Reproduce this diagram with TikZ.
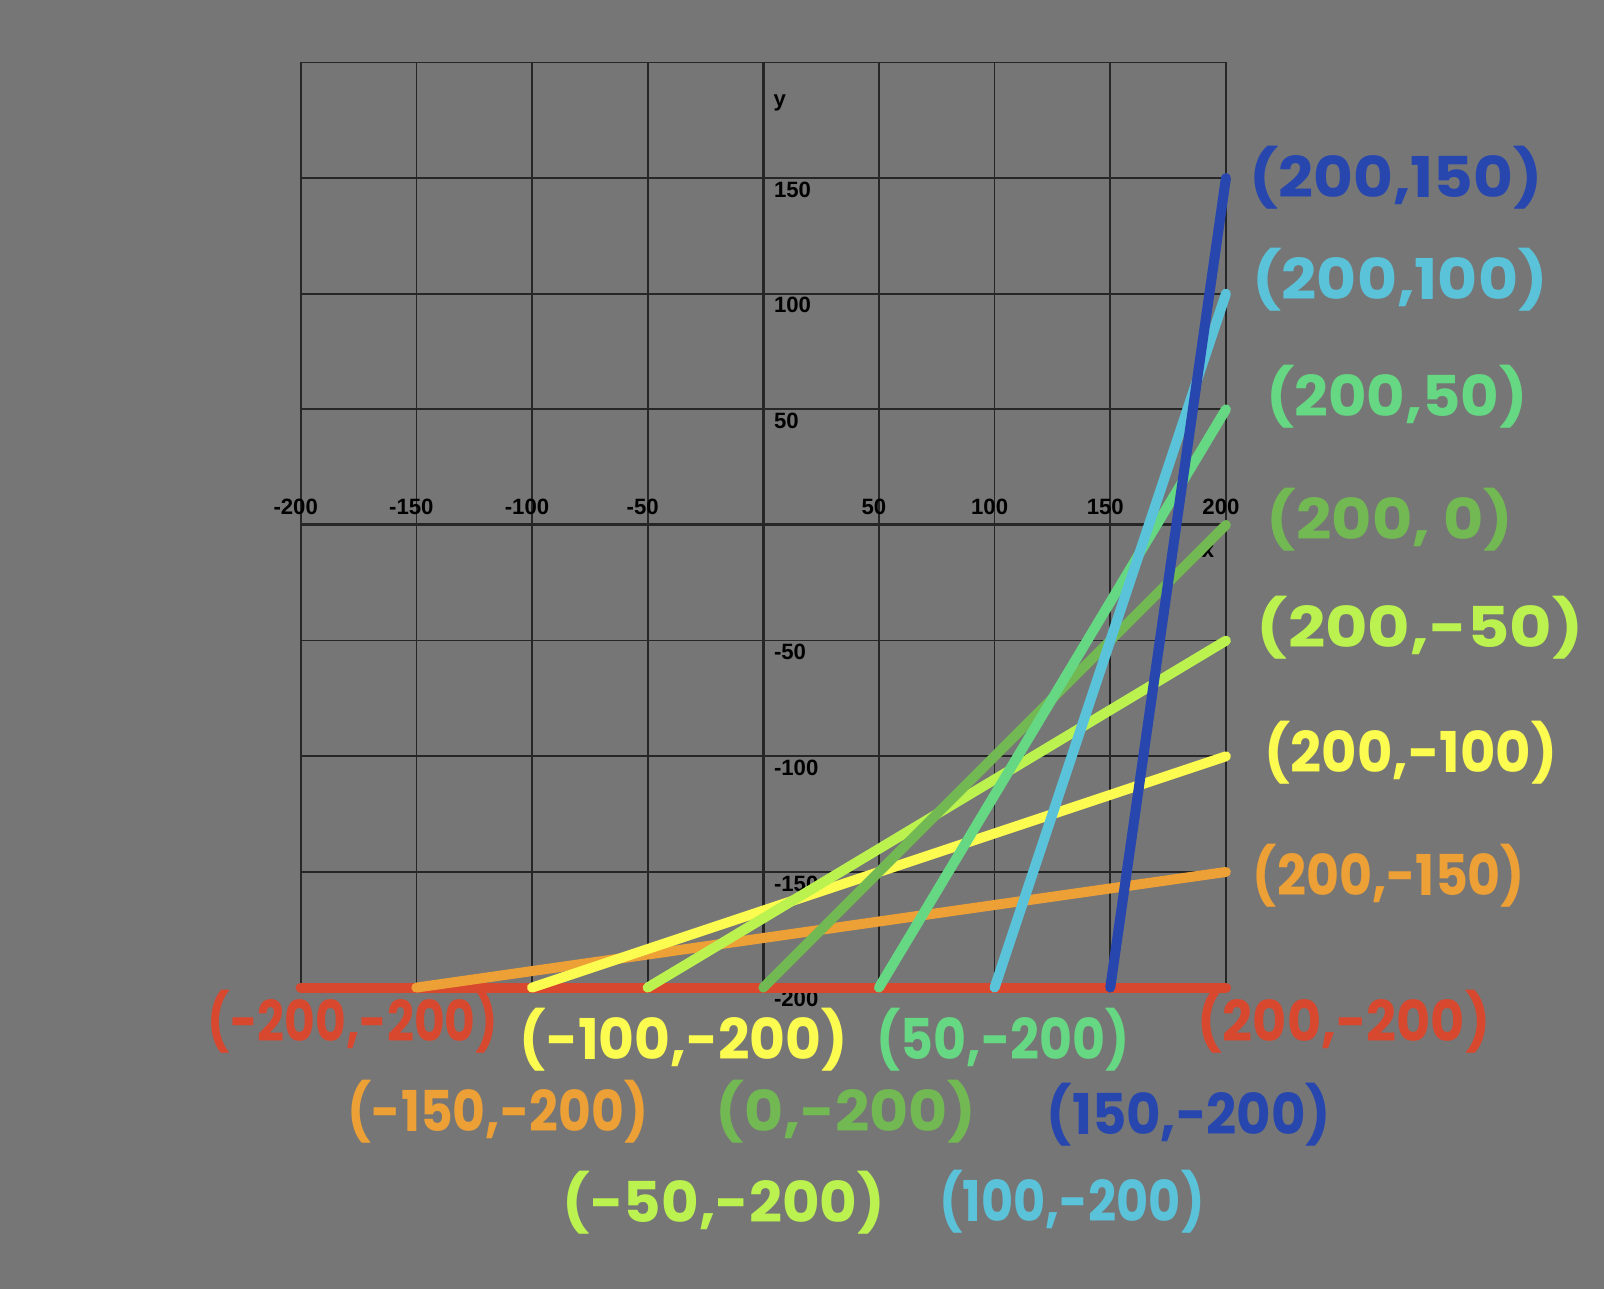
\documentclass[tikz,border=0pt]{standalone}
\usepackage{fontspec}
\usepackage{graphicx}
\setmainfont{Liberation Sans}
\newfontfamily\handfont{Poppins}
\newcommand{\handlab}[2]{\resizebox{#1}{\height}{#2}}
\definecolor{bgcol}{RGB}{118,118,118}
\definecolor{cred}{RGB}{216,72,47}
\definecolor{corange}{RGB}{236,160,53}
\definecolor{cyellow}{RGB}{252,252,80}
\definecolor{cygreen}{RGB}{187,242,79}
\definecolor{cgreen}{RGB}{114,184,83}
\definecolor{cmint}{RGB}{102,215,130}
\definecolor{ccyan}{RGB}{91,195,217}
\definecolor{cblue}{RGB}{39,71,175}
\tikzset{
  gridline/.style={draw=black!85, line width=0.017cm},
  axisline/.style={draw=black!85, line width=0.03cm},
  ticklab/.style={font=\bfseries\fontsize{6.3}{7}\selectfont, text=black, inner sep=0pt},
  dataline/.style={line width=0.1cm, line cap=round},
  hand/.style={font=\handfont\bfseries\fontsize{16}{19}\selectfont, inner sep=0pt, anchor=center},
}
\begin{document}
\begin{tikzpicture}[x=0.01cm,y=-0.01cm]
\fill[bgcol] (0,0) rectangle (1604,1289);
\useasboundingbox (0,0) rectangle (1604,1289);
\begin{scope}[shift={(763.3,525)}, x=0.02312cm, y=0.02312cm]
  % grid
  \foreach \v in {-200,-150,...,200} {
    \draw[gridline] (\v,-200) -- (\v,200);
    \draw[gridline] (-200,\v) -- (200,\v);
  }
  \draw[axisline] (-200,0) -- (200,0);
  \draw[axisline] (0,-200) -- (0,200);
  % x tick labels
  \foreach \v in {-200,-150,-100,-50,50,100,150,200} {
    \node[ticklab, anchor=base, xshift=-0.05cm, yshift=0.1cm] (xl\v) at (\v,0) {\v};
  }
  % y tick labels
  \foreach \v in {150,100,50,-50,-100,-150,-200} {
    \node[ticklab, anchor=north west, xshift=0.1cm, yshift=-0.03cm] (yl\v) at (0,\v) {\v};
  }
  % endpoints
  \coordinate (L200) at (-200,-200);
  \coordinate (L150) at (-150,-200);
  \coordinate (L100) at (-100,-200);
  \coordinate (L50) at (-50,-200);
  \coordinate (L0) at (0,-200);
  \coordinate (P50) at (50,-200);
  \coordinate (P100) at (100,-200);
  \coordinate (P150) at (150,-200);
  \coordinate (R200) at (200,-200);
  \coordinate (R150) at (200,-150);
  \coordinate (R100) at (200,-100);
  \coordinate (R50) at (200,-50);
  \coordinate (R0) at (200,0);
  \coordinate (Q50) at (200,50);
  \coordinate (Q100) at (200,100);
  \coordinate (Q150) at (200,150);
\end{scope}
\node[ticklab, anchor=base west] (ylab) at (773,107) {y};
\node[ticklab, anchor=base] (xlab) at (1208,558) {x};
% data lines
\draw[dataline, cred] (L200) -- (R200);
\draw[dataline, corange] (L150) -- (R150);
\draw[dataline, cyellow] (L100) -- (R100);
\draw[dataline, cygreen] (L50) -- (R50);
\draw[dataline, cgreen] (L0) -- (R0);
\draw[dataline, cmint] (P50) -- (Q50);
\draw[dataline, ccyan] (P100) -- (Q100);
\draw[dataline, cblue] (P150) -- (Q150);
% handwritten labels
\node[hand, text=cblue] (tQ150) at (1396,178) {\handlab{2.93cm}{(200,150)}};
\node[hand, text=ccyan] (tQ100) at (1400,280) {\handlab{2.95cm}{(200,100)}};
\node[hand, text=cmint] (tQ50) at (1397,397) {\handlab{2.61cm}{(200,50)}};
\node[hand, text=cgreen] (tR0) at (1390,520) {\handlab{2.46cm}{(200, 0)}};
\node[hand, text=cygreen] (tR50) at (1420,628) {\handlab{3.26cm}{(200,-50)}};
\node[hand, text=cyellow] (tR100) at (1411,753) {\handlab{2.92cm}{(200,-100)}};
\node[hand, text=corange] (tR150) at (1389,876) {\handlab{2.72cm}{(200,-150)}};
\node[hand, text=cred] (tR200) at (1344,1022) {\handlab{2.92cm}{(200,-200)}};
\node[hand, text=cred] (tL200) at (353,1022) {\handlab{2.90cm}{(-200,-200)}};
\node[hand, text=cyellow] (tL100) at (684,1040) {\handlab{3.28cm}{(-100,-200)}};
\node[hand, text=cmint] (tP50) at (1003,1040) {\handlab{2.53cm}{(50,-200)}};
\node[hand, text=corange] (tL150) at (498,1112) {\handlab{3.00cm}{(-150,-200)}};
\node[hand, text=cgreen] (tL0) at (846,1112) {\handlab{2.61cm}{(0,-200)}};
\node[hand, text=cblue] (tP150) at (1189,1115) {\handlab{2.84cm}{(150,-200)}};
\node[hand, text=cygreen] (tL50) at (724,1203) {\handlab{3.22cm}{(-50,-200)}};
\node[hand, text=ccyan] (tP100) at (1072,1202) {\handlab{2.65cm}{(100,-200)}};
\end{tikzpicture}
\end{document}
